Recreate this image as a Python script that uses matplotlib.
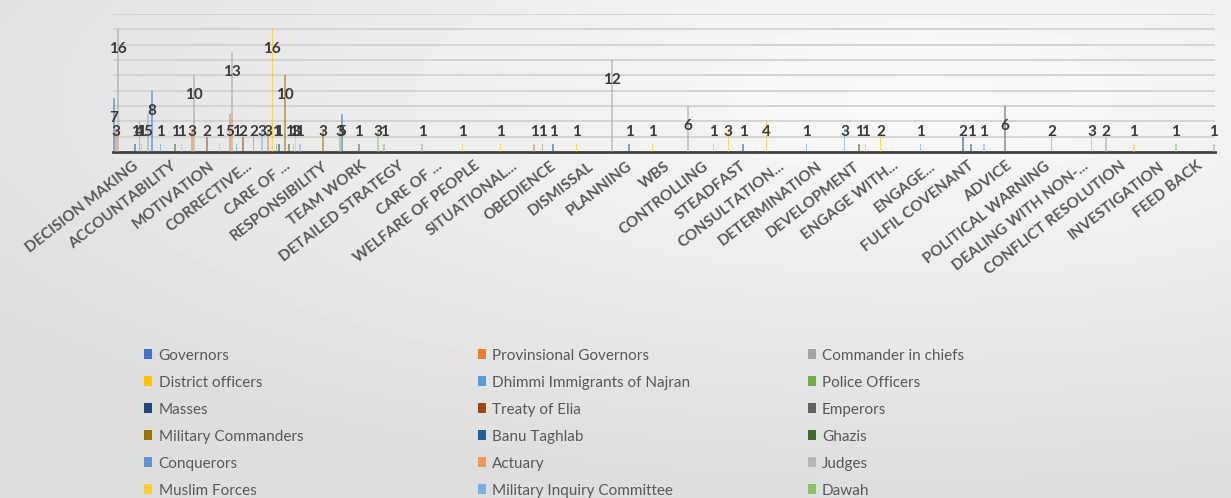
import numpy as np
import matplotlib.pyplot as plt
from matplotlib.patches import Patch

plt.rcParams['font.family'] = ['Lato', 'DejaVu Sans']

categories = ["DECISION MAKING", "ACCOUNTABILITY", "MOTIVATION", "CORRECTIVE...", "CARE OF ...",
              "RESPONSIBILITY", "TEAM WORK", "DETAILED STRATEGY", "CARE OF ...", "WELFARE OF PEOPLE",
              "SITUATIONAL...", "OBEDIENCE", "DISMISSAL", "PLANNING", "WBS", "CONTROLLING",
              "STEADFAST", "CONSULTATION...", "DETERMINATION", "DEVELOPMENT", "ENGAGE WITH...",
              "ENGAGE...", "FULFIL COVENANT", "ADVICE", "POLITICAL WARNING", "DEALING WITH NON-...",
              "CONFLICT RESOLUTION", "INVESTIGATION", "FEED BACK"]

series_names = ["Governors", "Provinsional Governors", "Commander in chiefs",
                "District officers", "Dhimmi Immigrants of Najran", "Police Officers",
                "Masses", "Treaty of Elia", "Emperors",
                "Military Commanders", "Banu Taghlab", "Ghazis",
                "Conquerors", "Actuary", "Judges",
                "Muslim Forces", "Military Inquiry Committee", "Dawah"]

# one list per series, 29 values each (one per category)
governors        = [7, 8, 0, 0, 0, 0, 5, 0, 0, 0, 0, 0, 0, 0, 0, 0, 0, 0, 0, 0, 0, 0, 0, 0, 0, 0, 0, 0, 0]
prov_governors   = [3, 0, 3, 5, 3, 0, 0, 0, 0, 0, 0, 1, 0, 0, 0, 0, 0, 0, 0, 0, 0, 0, 0, 0, 0, 0, 0, 0, 0]
commanders_chief = [16, 0, 10, 13, 0, 0, 0, 1, 1, 0, 0, 0, 0, 12, 0, 6, 0, 0, 0, 0, 0, 0, 0, 0, 0, 0, 2, 0, 0]
district_officers= [0, 0, 0, 0, 16, 0, 0, 0, 0, 1, 1, 0, 1, 0, 1, 0, 3, 4, 0, 0, 2, 0, 0, 0, 0, 0, 0, 0, 0]
dhimmi_najran    = [0, 1, 0, 1, 0, 0, 0, 0, 0, 0, 0, 0, 0, 0, 0, 0, 0, 0, 1, 3, 0, 1, 0, 0, 0, 0, 0, 0, 0]
police_officers  = [0, 0, 0, 0, 1, 0, 0, 0, 0, 0, 0, 1, 0, 0, 0, 0, 0, 0, 0, 0, 0, 0, 0, 0, 0, 0, 0, 0, 0]
masses           = [0, 0, 0, 0, 1, 0, 0, 0, 0, 0, 0, 0, 0, 0, 0, 0, 0, 0, 0, 0, 0, 0, 2, 0, 0, 0, 0, 0, 0]
treaty_elia      = [0, 0, 0, 2, 0, 0, 0, 0, 0, 0, 0, 0, 0, 0, 0, 0, 0, 0, 0, 0, 0, 0, 0, 0, 0, 0, 0, 0, 0]
emperors         = [0, 0, 2, 0, 0, 0, 1, 0, 0, 0, 0, 0, 0, 0, 0, 0, 0, 0, 0, 0, 0, 0, 0, 6, 0, 0, 0, 0, 0]
mil_commanders   = [0, 0, 0, 0, 10, 3, 0, 0, 0, 0, 0, 0, 0, 0, 0, 0, 0, 0, 0, 0, 0, 0, 0, 0, 0, 0, 0, 0, 0]
banu_taghlab     = [1, 0, 0, 0, 0, 0, 0, 0, 0, 0, 0, 1, 0, 1, 0, 0, 1, 0, 0, 0, 0, 0, 1, 0, 0, 0, 0, 0, 0]
ghazis           = [0, 1, 0, 0, 1, 0, 0, 0, 0, 0, 0, 0, 0, 0, 0, 0, 0, 0, 0, 1, 0, 0, 0, 0, 0, 0, 0, 0, 0]
conquerors       = [4, 0, 0, 2, 0, 0, 0, 0, 0, 0, 0, 0, 0, 0, 0, 0, 0, 0, 0, 0, 0, 0, 0, 0, 2, 0, 0, 0, 0]
actuary          = [1, 0, 0, 0, 1, 0, 0, 0, 0, 0, 0, 0, 0, 0, 0, 0, 0, 0, 0, 0, 0, 0, 0, 0, 0, 3, 0, 0, 0]
judges           = [0, 1, 1, 0, 3, 0, 0, 0, 0, 0, 0, 0, 0, 0, 0, 1, 0, 0, 0, 1, 0, 0, 0, 0, 0, 0, 0, 0, 0]
muslim_forces    = [0, 0, 0, 0, 0, 0, 0, 0, 0, 0, 0, 0, 0, 0, 0, 0, 0, 0, 0, 0, 0, 0, 0, 0, 0, 0, 1, 0, 0]
inquiry_committee= [5, 0, 0, 3, 1, 0, 0, 0, 0, 0, 0, 0, 0, 0, 0, 0, 0, 0, 0, 0, 0, 0, 1, 0, 0, 0, 0, 0, 0]
dawah            = [0, 0, 0, 0, 0, 3, 3, 0, 0, 0, 0, 0, 0, 0, 0, 0, 0, 0, 0, 0, 0, 0, 0, 0, 0, 0, 0, 1, 1]

series_values = [governors, prov_governors, commanders_chief, district_officers, dhimmi_najran,
                 police_officers, masses, treaty_elia, emperors, mil_commanders, banu_taghlab,
                 ghazis, conquerors, actuary, judges, muslim_forces, inquiry_committee, dawah]

colors = ["#4472C4", "#ED7D31", "#A5A5A5", "#FFC000", "#5B9BD5", "#70AD47",
          "#264478", "#9E480E", "#636363", "#997300", "#255E91", "#43682B",
          "#698ED0", "#F1975A", "#B7B7B7", "#FFCD33", "#7CAFDD", "#8CC168"]

fig = plt.figure(figsize=(12.31, 4.98), dpi=100)

# soft grey background gradient
bg = fig.add_axes([0, 0, 1, 1], zorder=-10)
gx, gy = np.meshgrid(np.linspace(0, 1, 300), np.linspace(0, 1, 120))
shade = 0.87 + 0.11 * np.clip(1 - np.hypot((gx - 0.75) * 1.1, (gy - 0.2) * 1.3), 0, 1)
bg.imshow(shade, cmap="gray", vmin=0, vmax=1, aspect="auto", extent=[0, 1, 0, 1])
bg.axis("off")

ax = fig.add_axes([0.0918, 0.6948, 0.8952, 0.2771])
ax.set_facecolor("none")

n_series = len(series_values)
x = np.arange(len(categories))
bw = 1.0 / n_series
for j, vals in enumerate(series_values):
    vals = np.array(vals, dtype=float)
    xs = x - 0.5 + (j + 0.5) * bw
    ax.bar(xs, vals, width=bw * 0.8, color=colors[j], alpha=0.55, zorder=3, linewidth=0)
    for xi, v in zip(xs, vals):
        if v > 0:
            ax.text(xi, max(v - 2.6, 2.6), f"{int(v)}", ha="center", va="center",
                    fontsize=11, fontweight="bold", color="#3a3a3a", zorder=5)

ax.set_xlim(-0.5, len(categories) - 0.5)
ax.set_ylim(0, 18)
ax.set_yticks(np.arange(2, 19, 2))
ax.yaxis.grid(True, color="#cfcfcf", linewidth=1.2, zorder=0)
ax.tick_params(axis="y", left=False, labelleft=False)
for s in ["top", "right", "left"]:
    ax.spines[s].set_visible(False)
ax.spines["bottom"].set_color("#404040")
ax.spines["bottom"].set_linewidth(2)
ax.set_xticks(x)
ax.set_xticklabels(categories, rotation=38, ha="right", rotation_mode="anchor",
                   fontsize=11, fontweight="bold", color="#595959")
ax.tick_params(axis="x", length=0, pad=5)

# legend: three columns, filled row by row
col_x = [0.117, 0.388, 0.656]
for c in range(3):
    idx = list(range(c, n_series, 3))
    handles = [Patch(facecolor=colors[i], edgecolor="none") for i in idx]
    fig.legend(handles, [series_names[i] for i in idx], loc="upper left",
               bbox_to_anchor=(col_x[c], 0.30), frameon=False, fontsize=11,
               labelcolor="#595959", handlelength=0.55, handleheight=0.6,
               handletextpad=0.4, labelspacing=0.85, borderpad=0, borderaxespad=0)

fig.savefig("out.png", dpi=100)
